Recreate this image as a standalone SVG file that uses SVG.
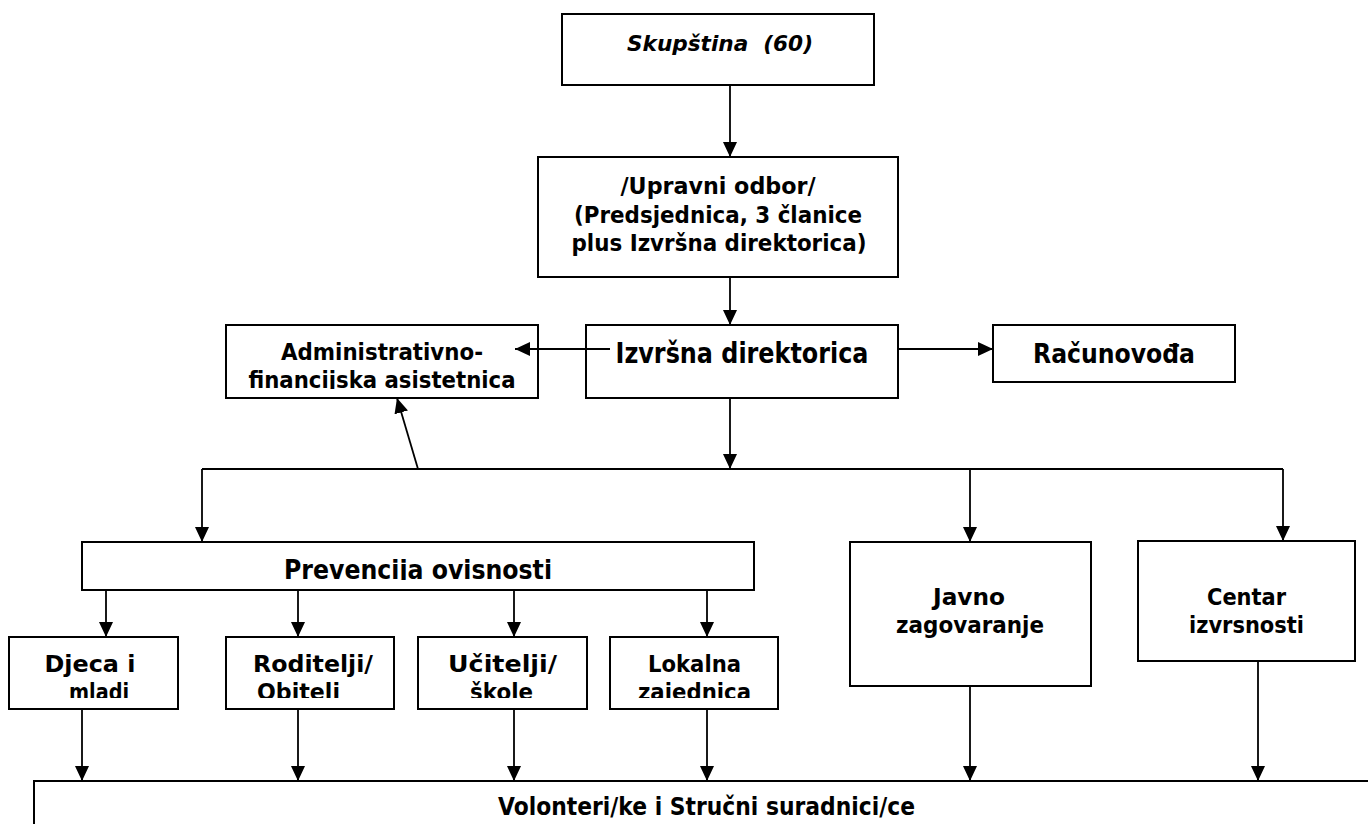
<svg xmlns="http://www.w3.org/2000/svg" width="1368" height="824" viewBox="0 0 1368 824">
<style>
.box{fill:#fff;stroke:#000;stroke-width:2}
.t{font-family:"DejaVu Sans",Verdana,sans-serif;font-weight:bold;fill:#000;text-anchor:middle}
.c{fill:none;stroke:#000;stroke-width:1.8;marker-end:url(#ah)}
.bus{fill:none;stroke:#000;stroke-width:1.8}
</style>
<defs>
<marker id="ah" markerUnits="userSpaceOnUse" viewBox="0 0 15 14" markerWidth="15" markerHeight="14" refX="15" refY="7" orient="auto">
<path d="M0,0 L15,7 L0,14 Z" fill="#000"/>
</marker>
<clipPath id="clipAdm"><rect x="0" y="0" width="1368" height="389"/></clipPath>
<clipPath id="clipPrev"><rect x="0" y="0" width="1368" height="580"/></clipPath>
<clipPath id="clipSmall"><rect x="0" y="0" width="1368" height="698"/></clipPath>
</defs>

<g id="node-skupstina">
<rect class="box" x="562" y="14" width="312" height="71"/>
<text class="t" x="720" y="51" font-size="22" font-style="italic" xml:space="preserve" style="white-space:pre" textLength="186" lengthAdjust="spacingAndGlyphs">Skupština  (60)</text>
</g>
<g id="node-upravni">
<rect class="box" x="538" y="157" width="360" height="120"/>
<text class="t" x="718" y="194" font-size="23" textLength="195" lengthAdjust="spacingAndGlyphs">/Upravni odbor/</text>
<text class="t" x="718" y="223" font-size="23" textLength="288" lengthAdjust="spacingAndGlyphs">(Predsjednica, 3 članice</text>
<text class="t" x="719" y="251" font-size="23" textLength="295" lengthAdjust="spacingAndGlyphs">plus Izvršna direktorica)</text>
</g>
<g id="node-izvrsna">
<rect class="box" x="586" y="325" width="312" height="73"/>
<text class="t" x="742" y="363" font-size="28" textLength="253" lengthAdjust="spacingAndGlyphs">Izvršna direktorica</text>
</g>
<g id="node-admin">
<rect class="box" x="226" y="325" width="312" height="73"/>
<text class="t" x="382" y="360" font-size="23" textLength="202" lengthAdjust="spacingAndGlyphs">Administrativno-</text>
<text class="t" x="382" y="388" font-size="23" textLength="267" lengthAdjust="spacingAndGlyphs" clip-path="url(#clipAdm)">financijska asistetnica</text>
</g>
<g id="node-racunovoda">
<rect class="box" x="993" y="325" width="242" height="57"/>
<text class="t" x="1114" y="363" font-size="26" textLength="162" lengthAdjust="spacingAndGlyphs">Računovođa</text>
</g>
<g id="node-prevencija">
<rect class="box" x="82" y="542" width="672" height="48"/>
<text class="t" x="418" y="579" font-size="26" textLength="268" lengthAdjust="spacingAndGlyphs" clip-path="url(#clipPrev)">Prevencija ovisnosti</text>
</g>
<g id="node-djeca">
<rect class="box" x="9" y="637" width="169" height="72"/>
<text class="t" x="90" y="672" font-size="23" textLength="91" lengthAdjust="spacingAndGlyphs">Djeca i</text>
<text class="t" x="99" y="700" font-size="23" textLength="60" lengthAdjust="spacingAndGlyphs" clip-path="url(#clipSmall)">mladi</text>
</g>
<g id="node-roditelji">
<rect class="box" x="226" y="637" width="168" height="72"/>
<text class="t" x="313" y="672" font-size="23" textLength="120" lengthAdjust="spacingAndGlyphs">Roditelji/</text>
<text class="t" x="298.5" y="700" font-size="23" textLength="83" lengthAdjust="spacingAndGlyphs" clip-path="url(#clipSmall)">Obitelj</text>
</g>
<g id="node-ucitelji">
<rect class="box" x="418" y="637" width="169" height="72"/>
<text class="t" x="502.5" y="672" font-size="23" textLength="109" lengthAdjust="spacingAndGlyphs">Učitelji/</text>
<text class="t" x="501.5" y="700" font-size="23" textLength="63" lengthAdjust="spacingAndGlyphs" clip-path="url(#clipSmall)">škole</text>
</g>
<g id="node-lokalna">
<rect class="box" x="610" y="637" width="168" height="72"/>
<text class="t" x="694.5" y="672" font-size="23" textLength="93" lengthAdjust="spacingAndGlyphs">Lokalna</text>
<text class="t" x="694.5" y="700" font-size="23" textLength="113" lengthAdjust="spacingAndGlyphs" clip-path="url(#clipSmall)">zajednica</text>
</g>
<g id="node-javno">
<rect class="box" x="850" y="542" width="241" height="144"/>
<text class="t" x="969" y="605" font-size="23" textLength="72" lengthAdjust="spacingAndGlyphs">Javno</text>
<text class="t" x="970" y="633" font-size="23" textLength="148" lengthAdjust="spacingAndGlyphs">zagovaranje</text>
</g>
<g id="node-centar">
<rect class="box" x="1138" y="541" width="217" height="120"/>
<text class="t" x="1246.5" y="605" font-size="23" textLength="79" lengthAdjust="spacingAndGlyphs">Centar</text>
<text class="t" x="1246.5" y="633" font-size="23" textLength="115" lengthAdjust="spacingAndGlyphs">izvrsnosti</text>
</g>
<g id="node-volonteri">
<rect class="box" x="34" y="781" width="1350" height="60"/>
<text class="t" x="706.5" y="815" font-size="25" textLength="417" lengthAdjust="spacingAndGlyphs">Volonteri/ke i Stručni suradnici/ce</text>
</g>

<g id="connectors">
<path class="c" d="M730,85 V157"/>
<path class="c" d="M730,277 V325"/>
<path class="c" d="M610,349 H515"/>
<path class="c" d="M898,349 H993"/>
<path class="c" d="M730,398 V469"/>
<path class="bus" d="M202,469 H1283"/>
<path class="c" d="M418,469 L397,398"/>
<path class="c" d="M202,469 V542"/>
<path class="c" d="M970,469 V542"/>
<path class="c" d="M1283,469 V541"/>
<path class="c" d="M106,590 V637"/>
<path class="c" d="M298,590 V637"/>
<path class="c" d="M514,590 V637"/>
<path class="c" d="M707,590 V637"/>
<path class="c" d="M82,709 V781"/>
<path class="c" d="M298,709 V781"/>
<path class="c" d="M514,709 V781"/>
<path class="c" d="M707,709 V781"/>
<path class="c" d="M970,686 V781"/>
<path class="c" d="M1258,661 V781"/>
</g>
</svg>
